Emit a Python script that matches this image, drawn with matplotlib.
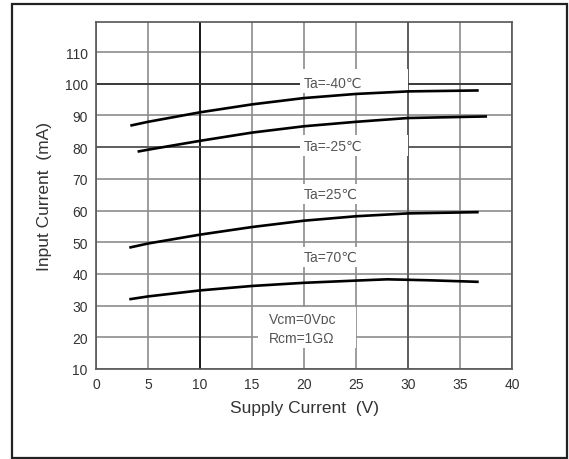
import matplotlib
matplotlib.use("Agg")
from matplotlib import pyplot as plt
from matplotlib.patches import Rectangle

# supply voltage points
vs_m40 = [3.3, 5, 10, 15, 20, 25, 30, 36.8]
ic_m40 = [86.8, 88.0, 91.0, 93.5, 95.5, 96.8, 97.6, 97.9]

vs_m25 = [4.0, 5, 10, 15, 20, 25, 30, 37.6]
ic_m25 = [78.6, 79.2, 82.0, 84.6, 86.6, 88.0, 89.2, 89.7]

vs_25 = [3.2, 5, 10, 15, 20, 25, 30, 36.8]
ic_25 = [48.3, 49.6, 52.4, 54.8, 56.8, 58.2, 59.1, 59.5]

vs_70 = [3.2, 5, 10, 15, 20, 25, 28, 32, 36.8]
ic_70 = [32.0, 32.9, 34.8, 36.2, 37.2, 37.9, 38.3, 38.0, 37.5]

curve_labels = ['Ta=-40\u2103', 'Ta=-25\u2103', 'Ta=25\u2103', 'Ta=70\u2103']
label_x = [20.0, 20.0, 20.0, 20.0]
label_y = [100.3, 80.3, 65.3, 45.3]

xticks = [0, 5, 10, 15, 20, 25, 30, 35, 40]
yticks = [10, 20, 30, 40, 50, 60, 70, 80, 90, 100, 110]

plt.rcParams['font.family'] = ['Liberation Sans', 'DejaVu Sans']

fig = plt.figure(figsize=(5.69, 4.60), dpi=100)
fig.patches.append(Rectangle((12/569, 1/460), 555/569, 454/460, transform=fig.transFigure,
                             fill=False, edgecolor='#222222', lw=1.6))

ax = fig.add_axes([96/569, 1 - 370/460, 416/569, 347/460])
ax.set_xlim(0, 40)
ax.set_ylim(10, 119.5)
ax.set_xticks(xticks)
ax.set_yticks(yticks)
ax.tick_params(length=0, labelsize=10, labelcolor='#333333', pad=6)
ax.set_axisbelow(True)
ax.grid(True, color='#8c8c8c', lw=1.2)
ax.axvline(10, color='#111111', lw=1.3, zorder=1)
ax.axvline(30, color='#555555', lw=1.2, zorder=1)
ax.axhline(100, color='#333333', lw=1.3, zorder=1)
ax.axhline(80, color='#555555', lw=1.2, zorder=1)
for s in ax.spines.values():
    s.set_color('#555555')
    s.set_linewidth(1.2)

# white gaps in the grid behind the labels
ax.add_patch(Rectangle((19.6, 97.8), 10.4, 6.8, facecolor='white', edgecolor='none', zorder=2))
ax.add_patch(Rectangle((19.6, 77.2), 10.4, 6.6, facecolor='white', edgecolor='none', zorder=2))
ax.add_patch(Rectangle((15.6, 16.5), 9.4, 13.0, facecolor='white', edgecolor='none', zorder=2))

for xs, ys in [(vs_m40, ic_m40), (vs_m25, ic_m25), (vs_25, ic_25), (vs_70, ic_70)]:
    ax.plot(xs, ys, color='black', lw=1.9, zorder=4, solid_capstyle='butt')

for t, x, y in zip(curve_labels, label_x, label_y):
    ax.text(x, y, t, fontsize=10, color='#555555', va='center', ha='left', zorder=3,
            bbox=dict(facecolor='white', edgecolor='none', pad=2.0))

ax.text(16.6, 25.8, 'Vcm=0V\u1d05\u1d04', fontsize=10, color='#555555', va='center', ha='left', zorder=3)
ax.text(16.6, 19.9, 'Rcm=1G\u03a9', fontsize=10, color='#555555', va='center', ha='left', zorder=3)

ax.set_xlabel('Supply Current  (V)', fontsize=12.5, color='#333333', labelpad=6)
ax.set_ylabel('Input Current  (mA)', fontsize=12.5, color='#333333', labelpad=9)

fig.savefig('out.png', dpi=100)
